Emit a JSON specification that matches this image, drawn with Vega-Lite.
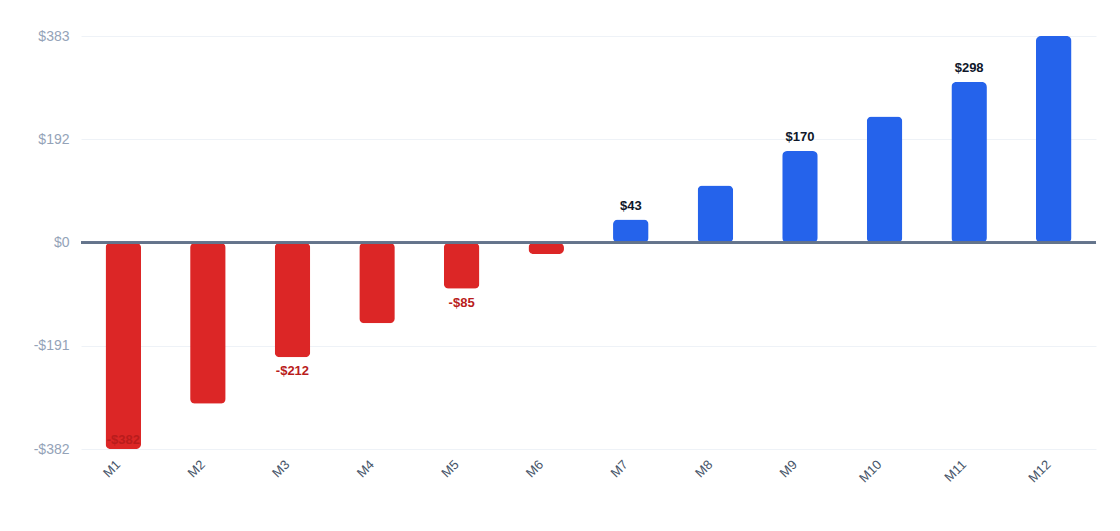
{
  "$schema": "https://vega.github.io/schema/vega-lite/v6.json",
  "width": 1015,
  "height": 413,
  "padding": {"left": 33, "top": 29, "right": 20, "bottom": 10},
  "autosize": {"type": "pad"},
  "background": "white",
  "config": {
    "view": {"stroke": null},
    "font": "Liberation Sans",
    "axis": {"labelFont": "Liberation Sans"}
  },
  "data": {
    "values": [
      {"month": "M1", "value": -382},
      {"month": "M2", "value": -298},
      {"month": "M3", "value": -212},
      {"month": "M4", "value": -149},
      {"month": "M5", "value": -85},
      {"month": "M6", "value": -21},
      {"month": "M7", "value": 43},
      {"month": "M8", "value": 106},
      {"month": "M9", "value": 170},
      {"month": "M10", "value": 234},
      {"month": "M11", "value": 298},
      {"month": "M12", "value": 383}
    ]
  },
  "encoding": {
    "x": {
      "field": "month",
      "type": "nominal",
      "sort": null,
      "scale": {"paddingInner": 0.58, "paddingOuter": 0.29},
      "axis": {
        "title": null,
        "labelAngle": -45,
        "labelFontSize": 13,
        "labelColor": "#475569",
        "labelBaseline": "bottom",
        "ticks": false,
        "domain": false,
        "labelPadding": 18
      }
    }
  },
  "layer": [
    {
      "mark": {"type": "bar", "cornerRadius": 5},
      "encoding": {
        "y": {
          "field": "value",
          "type": "quantitative",
          "scale": {"domain": [-382, 383], "nice": false, "zero": true},
          "axis": {
            "title": null,
            "values": [-382, -191, 0, 191.5, 383],
            "labelExpr": "datum.value < 0 ? '-$' + format(abs(datum.value), '.0f') : '$' + format(datum.value, '.0f')",
            "labelFontSize": 14,
            "labelColor": "#94a3b8",
            "labelPadding": 12,
            "ticks": false,
            "domain": false,
            "gridColor": "#eef2f7",
            "gridWidth": 1
          }
        },
        "color": {
          "condition": {"test": "datum.value < 0", "value": "#dc2626"},
          "value": "#2563eb"
        }
      }
    },
    {
      "mark": {"type": "rule", "color": "#64748b", "strokeWidth": 2},
      "encoding": {
        "x": {"value": 0},
        "x2": {"value": "width"},
        "y": {"datum": 0}
      }
    },
    {
      "transform": [
        {"filter": "parseInt(substring(datum.month, 1)) % 2 == 1 && datum.value > 0"}
      ],
      "mark": {"type": "text", "fontWeight": "bold", "fontSize": 13, "color": "#0f172a", "baseline": "middle", "dy": -14},
      "encoding": {
        "y": {"field": "value", "type": "quantitative"},
        "text": {"field": "value", "type": "quantitative", "format": "$,.0f"}
      }
    },
    {
      "transform": [
        {"filter": "parseInt(substring(datum.month, 1)) % 2 == 1 && datum.value < 0"},
        {"calculate": "'-$' + format(abs(datum.value), '.0f')", "as": "lbl"},
        {"calculate": "max(datum.value, -340)", "as": "ly"}
      ],
      "mark": {"type": "text", "fontWeight": "bold", "fontSize": 13, "color": "#b91c1c", "baseline": "middle", "dy": 14},
      "encoding": {
        "y": {"field": "ly", "type": "quantitative"},
        "text": {"field": "lbl", "type": "nominal"}
      }
    }
  ]
}
